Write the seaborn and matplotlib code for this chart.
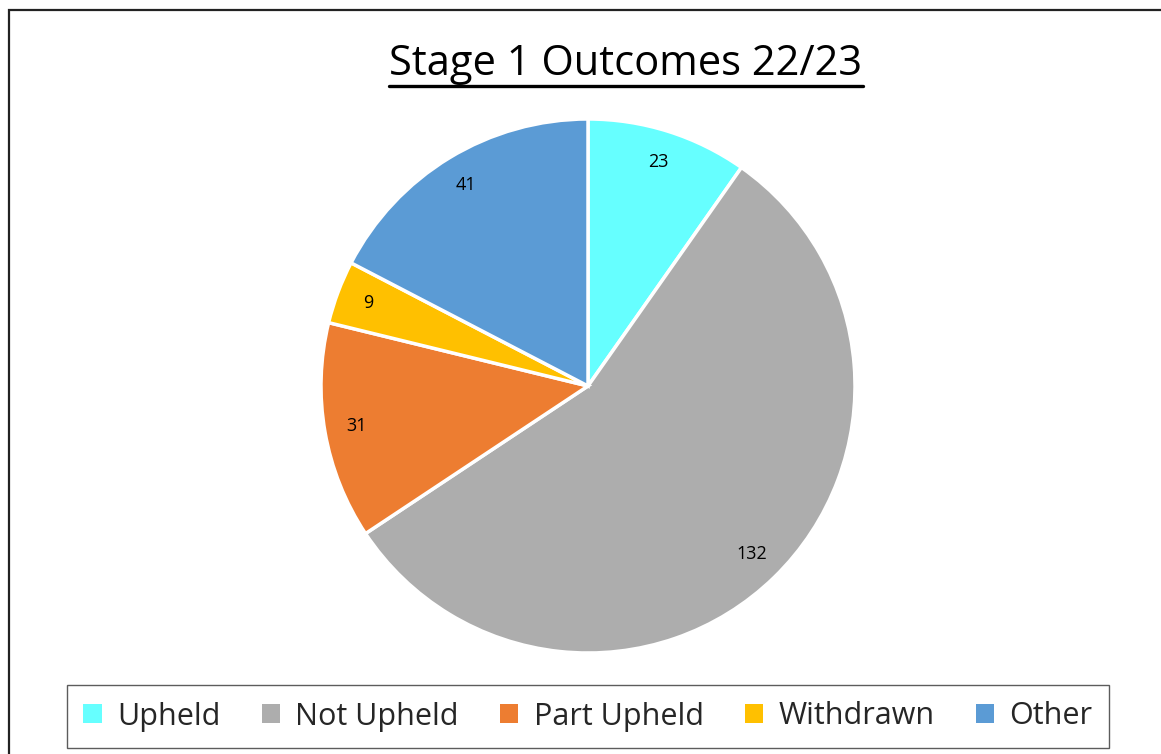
#!/usr/bin/env python3
"""
Stage 1 complaint outcomes 22/23 as a pie chart.
"""

import matplotlib
matplotlib.use("Agg")
import matplotlib.pyplot as plt
import seaborn as sns
from matplotlib.patches import Rectangle

# data
outcomes = ["Upheld", "Not Upheld", "Part Upheld", "Withdrawn", "Other"]
counts = [23, 132, 31, 9, 41]
colours = ["#66FFFF", "#ADADAD", "#ED7D31", "#FFC000", "#5B9BD5"]
title = "Stage 1 Outcomes 22/23"

W, H = 1161, 754


def main():
    sns.set_theme(style="white")
    plt.rcParams["font.family"] = ["Open Sans", "DejaVu Sans"]

    fig = plt.figure(figsize=(W / 100, H / 100), dpi=100)
    fig.patch.set_facecolor("white")

    # outer chart frame
    fig.patches.append(Rectangle((9 / W, -0.1), 1.2, 1 - 10 / H + 0.1,
                                 transform=fig.transFigure, fill=False,
                                 edgecolor="#222222", linewidth=1.6))

    # pie centred at (588, 386) px, radius 267 px
    cx, cy, r = 588, 386, 267
    ax = fig.add_axes([(cx - r) / W, (H - cy - r) / H, 2 * r / W, 2 * r / H])
    wedges, texts = ax.pie(
        counts, colors=colours, labels=[str(c) for c in counts],
        startangle=90, counterclock=False, labeldistance=0.88,
        wedgeprops=dict(edgecolor="white", linewidth=2.5),
        textprops=dict(fontsize=13, color="black"),
    )
    for t in texts:
        t.set_horizontalalignment("center")
        t.set_verticalalignment("center")
    ax.set_xlim(-1, 1)
    ax.set_ylim(-1, 1)
    ax.set_aspect("equal")
    ax.axis("off")

    t = fig.text(626 / W, 1 - 64 / H, title, ha="center", va="center",
                 fontsize=30, color="black")
    # underline
    fig.canvas.draw()
    bb = t.get_window_extent()
    fig.add_artist(plt.Line2D([bb.x0 / W, bb.x1 / W], [(H - 86) / H] * 2,
                              transform=fig.transFigure, color="black",
                              linewidth=2.4))

    leg = fig.legend(wedges, outcomes, loc="center",
                     bbox_to_anchor=(588 / W, 1 - 716.5 / H), ncol=5,
                     fontsize=22, frameon=True, fancybox=False,
                     handlelength=0.6, handleheight=0.6, handletextpad=0.5,
                     columnspacing=1.35, borderpad=0.55)
    leg.get_frame().set_edgecolor("#333333")
    leg.get_frame().set_linewidth(1.0)
    for h in leg.legend_handles:
        h.set_edgecolor("none")

    fig.savefig("out.png", dpi=100)
    plt.close(fig)


if __name__ == "__main__":
    main()
